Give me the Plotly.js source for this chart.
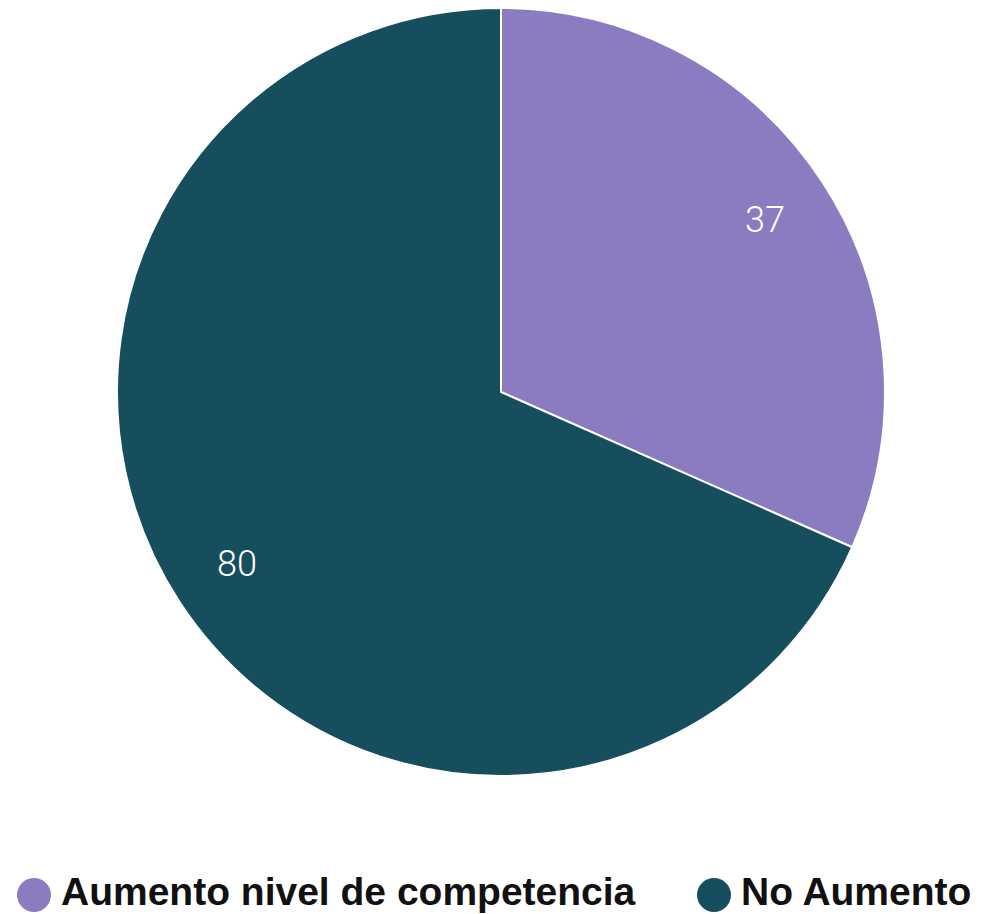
<!DOCTYPE html>
<html>
<head>
<meta charset="utf-8">
<script src="https://cdn.plot.ly/plotly-3.0.1.min.js"></script>
<style>html,body{margin:0;padding:0;background:#fff;}</style>
</head>
<body>
<div id="chart" style="width:984px;height:914px;"></div>
<script>
const labels = ["Aumento nivel de competencia", "No Aumento"];
const values = [37, 80];
const colors = ["#8b7bc1", "#164e5e"];

const W = 984, H = 914;
const margin = {l: 18, r: 0, t: 8, b: 138};
const PW = W - margin.l - margin.r, PH = H - margin.t - margin.b;
const R = Math.min(PW, PH) / 2;

// value labels placed along each slice's bisector, computed from the data
const total = values.reduce((a, b) => a + b, 0);
let cum = 0;
const valueAnn = values.map((v, i) => {
  const mid = 2 * Math.PI * (cum + v / 2) / total;
  cum += v;
  const r = 0.82 * R;
  return {
    text: String(v), xref: "paper", yref: "paper", showarrow: false,
    x: 0.5 + r * Math.sin(mid) / PW,
    y: 0.5 + r * Math.cos(mid) / PH,
    xanchor: "center", yanchor: "middle",
    font: {family: "Roboto, sans-serif", size: 36, color: "#ffffff", weight: 300}
  };
});

// legend built from the label/colour arrays
const legendXs = [34, 714];
const legendY = 895;
const shapes = labels.map((l, i) => ({
  type: "circle", xref: "paper", yref: "paper",
  x0: (legendXs[i] - 17 - margin.l) / PW,
  x1: (legendXs[i] + 17 - margin.l) / PW,
  y0: (H - margin.b - (legendY + 17)) / PH,
  y1: (H - margin.b - (legendY - 17)) / PH,
  fillcolor: colors[i], line: {width: 0}
}));
const legendAnn = labels.map((l, i) => ({
  text: "<b>" + l + "</b>", xref: "paper", yref: "paper", showarrow: false,
  x: (legendXs[i] + 27 - margin.l) / PW,
  y: (H - margin.b - 891) / PH,
  xanchor: "left", yanchor: "middle", borderpad: 0, borderwidth: 0,
  font: {family: "Liberation Sans, Arial, sans-serif", size: 39, color: "#111111"}
}));

Plotly.newPlot("chart", [{
  type: "pie",
  labels: labels,
  values: values,
  sort: false,
  direction: "clockwise",
  rotation: 0,
  marker: {colors: colors, line: {color: "#ffffff", width: 2}},
  textinfo: "none",
  hoverinfo: "label+value",
  showlegend: false
}], {
  width: W, height: H,
  margin: margin,
  paper_bgcolor: "#ffffff",
  showlegend: false,
  shapes: shapes,
  annotations: valueAnn.concat(legendAnn)
}, {displayModeBar: false, staticPlot: true});
</script>
</body>
</html>
